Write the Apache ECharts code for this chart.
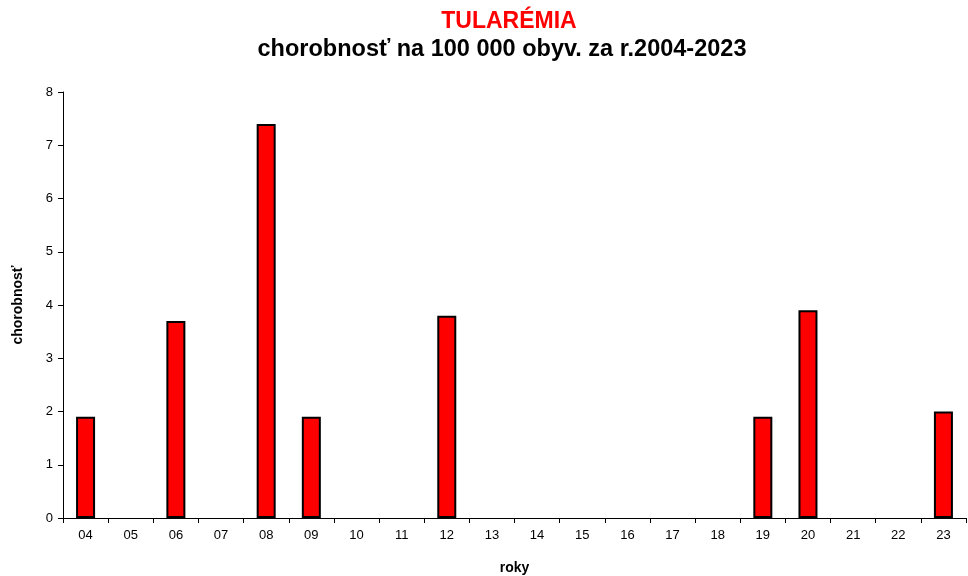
<!DOCTYPE html>
<html>
<head>
<meta charset="utf-8">
<script src="https://cdn.jsdelivr.net/npm/echarts@6/dist/echarts.min.js"></script>
<style>
  html, body { margin: 0; padding: 0; background: #fff; }
  #chart { width: 968px; height: 576px; }
</style>
</head>
<body>
<div id="chart"></div>
<script>
const years = ['04', '05', '06', '07', '08', '09', '10', '11', '12', '13',
  '14', '15', '16', '17', '18', '19', '20', '21', '22', '23']
const incidence = [1.9, 0, 3.7, 0, 7.4, 1.9, 0, 0, 3.8, 0,
  0, 0, 0, 0, 0, 1.9, 3.9, 0, 0, 2.0]

const font = 'Liberation Sans, Arial, sans-serif'

// zero years have no visible bar in the original
const barData = incidence.map(v => (v === 0 ? '-' : v))

const chart = echarts.init(document.getElementById('chart'))
chart.setOption({
  backgroundColor: '#fff',
  animation: false,
  title: [
    {
      text: 'TULARÉMIA',
      left: 504,
      textAlign: 'center',
      top: 5,
      textStyle: { color: '#ff0000', fontSize: 23, fontWeight: 'bold', fontFamily: font },
    },
    {
      text: 'chorobnosť na 100 000 obyv. za r.2004-2023',
      left: 497,
      textAlign: 'center',
      top: 33,
      textStyle: { color: '#000', fontSize: 23.5, fontWeight: 'bold', fontFamily: font },
    },
  ],
  grid: { left: 63, right: 2, top: 92, bottom: 58, outerBoundsMode: 'none' },
  xAxis: {
    type: 'category',
    data: years,
    name: 'roky',
    nameLocation: 'middle',
    nameGap: 43,
    nameTextStyle: { fontSize: 14, fontWeight: 'bold', color: '#000', fontFamily: font },
    axisLine: { lineStyle: { color: '#000', width: 1 } },
    axisTick: { show: true, length: 5, lineStyle: { color: '#000' } },
    axisLabel: { color: '#000', fontSize: 13, fontFamily: font, margin: 11 },
  },
  yAxis: {
    type: 'value',
    min: 0,
    max: 8,
    interval: 1,
    name: 'chorobnosť',
    nameLocation: 'middle',
    nameGap: 38,
    nameTextStyle: { fontSize: 14, fontWeight: 'bold', color: '#000', fontFamily: font },
    axisLine: { show: true, lineStyle: { color: '#000', width: 1 } },
    axisTick: { show: true, length: 5, lineStyle: { color: '#000' } },
    axisLabel: { color: '#000', fontSize: 13, fontFamily: font, margin: 10 },
    splitLine: { show: false },
  },
  series: [
    {
      type: 'bar',
      data: barData,
      barWidth: 19,
      itemStyle: { color: '#ff0000', borderColor: '#000', borderWidth: 2 },
    },
  ],
})
</script>
</body>
</html>
